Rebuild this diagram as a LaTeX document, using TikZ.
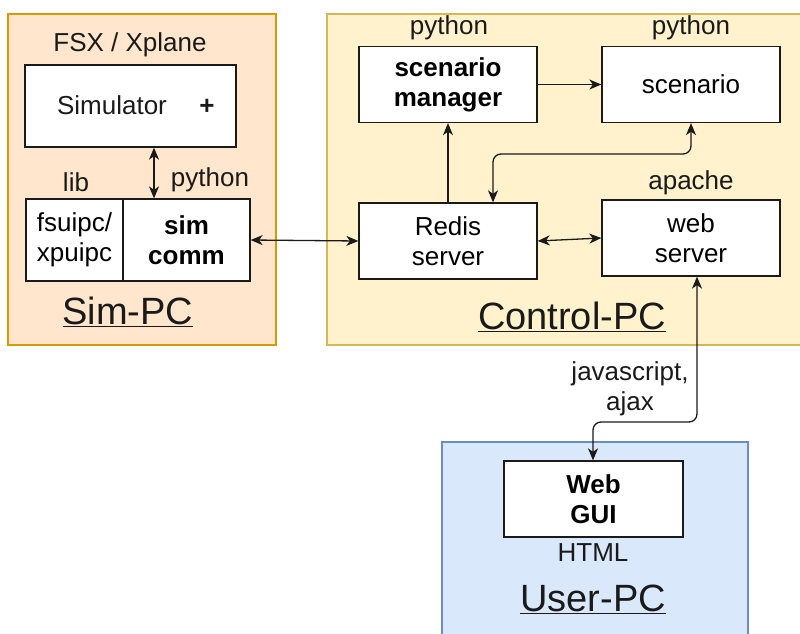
\documentclass[tikz,border=0pt]{standalone}
\usepackage{fontspec}
\setmainfont{Liberation Sans}
\usetikzlibrary{arrows.meta}
\definecolor{simfill}{HTML}{FFE6CC}
\definecolor{simline}{HTML}{D79B00}
\definecolor{ctrlfill}{HTML}{FFF2CC}
\definecolor{ctrlline}{HTML}{D6B656}
\definecolor{userfill}{HTML}{DAE8FC}
\definecolor{userline}{HTML}{6C8EBF}
\definecolor{ink}{HTML}{1A1A1A}
\tikzset{
  box/.style={draw=ink, line width=1.3pt, fill=white, inner sep=0pt, align=center,
    font=\fontsize{26}{30}\selectfont},
  lbl/.style={inner sep=0pt, align=center, text=ink, font=\fontsize{26}{30}\selectfont},
  title/.style={inner sep=0pt, text=ink, font=\fontsize{38}{44}\selectfont},
  conn/.style={draw=ink, line width=1.3pt, {Stealth[length=12pt,width=10pt,inset=3.5pt]}-{Stealth[length=12pt,width=10pt,inset=3.5pt]}},
  conn1/.style={draw=ink, line width=1.3pt, -{Stealth[length=12pt,width=10pt,inset=3.5pt]}}
}
\begin{document}
\begin{tikzpicture}[x=1pt,y=-1pt]
\useasboundingbox (0,0) rectangle (800,634);
\clip (0,0) rectangle (800,634);
% containers
\draw[fill=simfill, draw=simline, line width=1.3pt] (8,14) rectangle (276,345);
\draw[fill=ctrlfill, draw=ctrlline, line width=1.3pt] (327,14) rectangle (812,345);
\draw[fill=userfill, draw=userline, line width=1.3pt] (442,442) rectangle (748,645);
% Sim-PC
\node[lbl] (fsx) at (130,45) {FSX / Xplane};
\node[box, minimum width=211pt, minimum height=82pt] (sim) at (130.5,106) {};
\node[lbl] (simtxt) at (112,105) {Simulator};
\node[lbl, font=\fontsize{26}{30}\selectfont\bfseries] (plus) at (207,107) {+};
\node[box, minimum width=97pt, minimum height=82pt] (lib) at (74.5,240) {fsuipc/\\xpuipc};
\node[box, minimum width=127pt, minimum height=82pt, font=\fontsize{26}{30}\selectfont\bfseries] (simcomm) at (186.5,240) {sim\\comm};
\node[lbl] (libl) at (76,182) {lib};
\node[lbl] (pyl) at (210,180) {python};
\node[title] (simpc) at (128,312) {\underline{Sim-PC}};
% Control-PC
\node[box, minimum width=178pt, minimum height=76pt, font=\fontsize{26}{30}\selectfont\bfseries] (smgr) at (448,84.5) {scenario\\manager};
\node[box, minimum width=178pt, minimum height=76pt] (scen) at (691,84.5) {scenario};
\node[box, minimum width=178pt, minimum height=76pt] (redis) at (448,241) {Redis\\server};
\node[box, minimum width=178pt, minimum height=76pt] (web) at (691,238) {web\\server};
\node[lbl] (py1) at (449,28) {python};
\node[lbl] (py2) at (691,28) {python};
\node[lbl] (apache) at (691,183) {apache};
\node[title] (ctrlpc) at (572,317) {\underline{Control-PC}};
% User-PC
\node[box, minimum width=179pt, minimum height=76pt, font=\fontsize{26}{30}\selectfont\bfseries] (gui) at (593.5,499) {Web\\GUI};
\node[lbl] (html) at (593,553) {HTML};
\node[title] (userpc) at (593,599) {\underline{User-PC}};
\node[lbl] (js) at (630,389) {javascript,\\ajax};
% connectors
\draw[conn] (sim.south -| 154,0) -- (simcomm.north -| 154,0);
\draw[conn] (simcomm.east) -- (redis.west);
\draw[conn1] (redis.north) -- (smgr.south);
\draw[conn1] (smgr.east) -- (scen.west);
\draw[conn, rounded corners=8pt] (scen.south) |- (493,154) -- (redis.north -| 493,0);
\draw[conn] (redis.east) -- (web.west);
\draw[conn, rounded corners=8pt] (web.south -| 697,0) |- (593,422) -- (gui.north -| 593,0);
\end{tikzpicture}
\end{document}
